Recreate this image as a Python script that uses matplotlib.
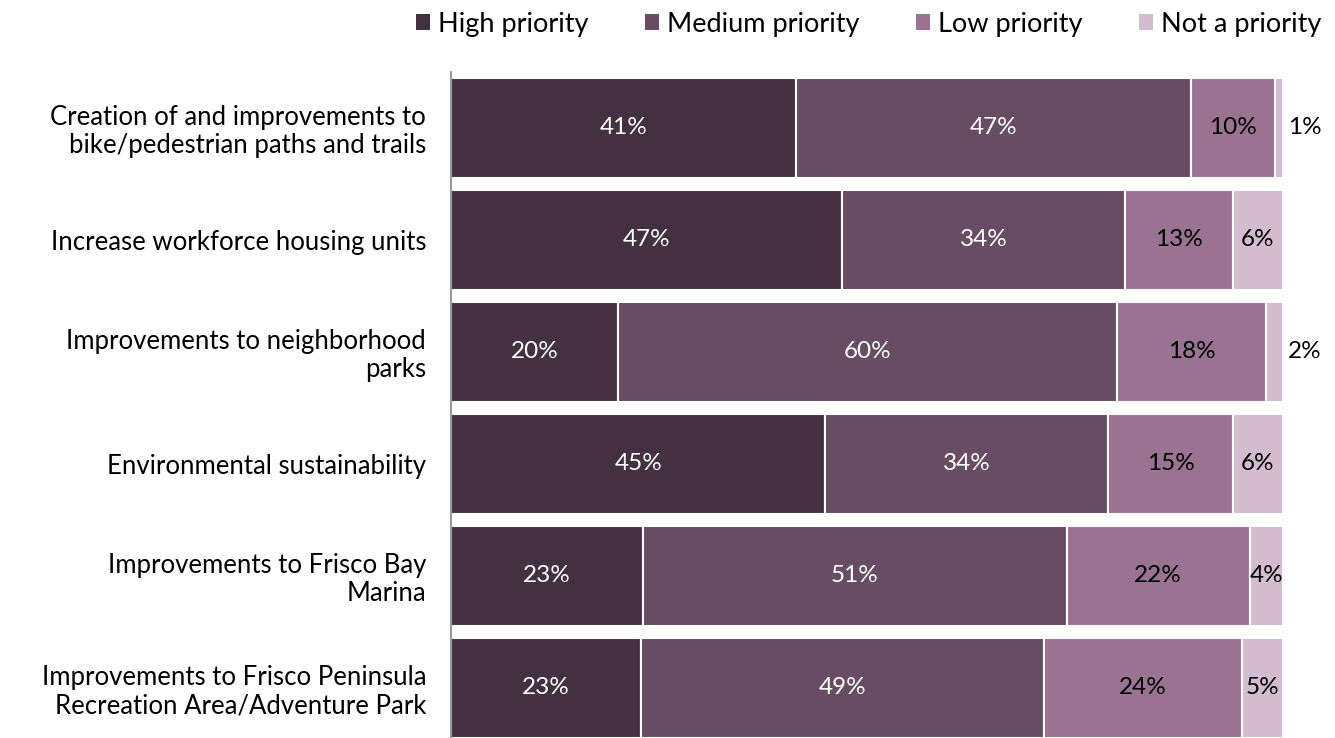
import numpy as np
import matplotlib.pyplot as plt
from matplotlib.patches import Patch

plt.rcParams['font.family'] = ['Lato', 'DejaVu Sans']

categories = [
    "Creation of and improvements to\nbike/pedestrian paths and trails",
    "Increase workforce housing units",
    "Improvements to neighborhood\nparks",
    "Environmental sustainability",
    "Improvements to Frisco Bay\nMarina",
    "Improvements to Frisco Peninsula\nRecreation Area/Adventure Park",
]
series = ["High priority", "Medium priority", "Low priority", "Not a priority"]
high = [41, 47, 20, 45, 23, 23]
medium = [47, 34, 60, 34, 51, 49]
low = [10, 13, 18, 15, 22, 24]
not_prio = [1, 6, 2, 6, 4, 5]
colors = ["#433141", "#674c64", "#997391", "#d3bccf"]
text_colors = ["white", "white", "black", "black"]

vals = np.array([high, medium, low, not_prio], dtype=float)
share = vals / vals.sum(axis=0) * 100  # 100% stacked

fig = plt.figure(figsize=(13.35, 7.38), dpi=100)
ax = fig.add_axes([0.338, -0.008, 0.623, 0.9106])

y = np.arange(len(categories))
left = np.zeros(len(categories))
for k in range(4):
    ax.barh(y, share[k], left=left, height=0.89, color=colors[k],
            edgecolor="white", linewidth=1.5)
    for i in range(len(categories)):
        v = vals[k, i]
        if k == 3 and v < 3:
            ax.text(left[i] + share[k, i] + 2.6, y[i], f"{int(v)}%",
                    ha="center", va="center", fontsize=17.5, color="black")
        else:
            ax.text(left[i] + share[k, i] / 2, y[i], f"{int(v)}%",
                    ha="center", va="center", fontsize=17.5, color=text_colors[k])
    left += share[k]

ax.set_xlim(0, 100)
ax.set_ylim(len(categories) - 0.5, -0.5)
ax.set_yticks(y)
ax.set_yticklabels(categories, fontsize=18.5, ha="right", linespacing=1.15)
ax.tick_params(axis="y", length=0, pad=18)
ax.set_xticks([])
for s in ["top", "right", "bottom"]:
    ax.spines[s].set_visible(False)
ax.spines["left"].set_color("#888888")
ax.spines["left"].set_linewidth(1.2)

handles = [Patch(facecolor=c, edgecolor="none") for c in colors]
fig.legend(handles, series, loc="upper right", bbox_to_anchor=(1.008, 1.017),
           ncol=4, frameon=False, fontsize=19.5, handlelength=0.5,
           handleheight=0.5, handletextpad=0.3, columnspacing=2.1)

fig.savefig("out.png", dpi=100)
